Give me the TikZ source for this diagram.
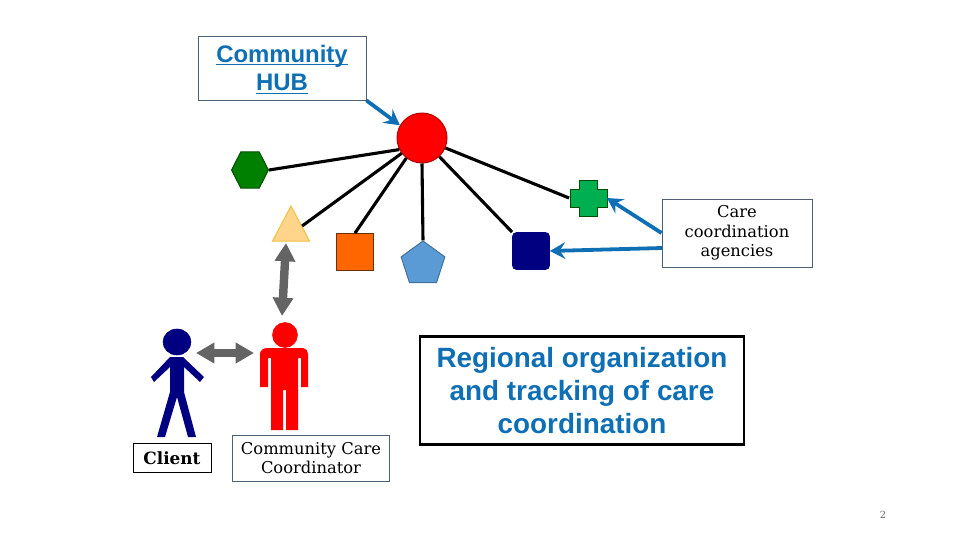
\documentclass[tikz,border=0pt]{standalone}
\usepackage{fontspec}
\setmainfont{DejaVu Serif}
\newfontfamily\arialfont{Liberation Sans}
\usetikzlibrary{arrows.meta,shapes.geometric}
\definecolor{linkblue}{HTML}{0F6FB5}
\definecolor{boxgray}{HTML}{4F6070}
\definecolor{arrowgray}{HTML}{646464}
\definecolor{clientblue}{HTML}{000080}
\definecolor{triline}{HTML}{F0C040}
\definecolor{trifill}{HTML}{FFD58C}
\definecolor{pentaline}{HTML}{41719C}
\definecolor{pentafill}{HTML}{5B9BD5}
\definecolor{plusfill}{HTML}{00B050}
\tikzset{
  labelbox/.style={draw=boxgray,line width=0.6pt,fill=white,align=center,inner sep=0pt,font=\fontsize{11.6}{13.8}\selectfont},
  spoke/.style={line width=2.2pt,black},
  pointer/.style={line width=2.7pt,linkblue,-{Stealth[length=11pt,width=12pt,inset=4pt]}},
  twoway/.style={line width=6pt,arrowgray,{Triangle[length=13pt,width=14pt]}-{Triangle[length=13pt,width=14pt]}},
  member/.style={inner sep=0pt,line width=0.7pt}
}
\begin{document}
\begin{tikzpicture}[x=0.025cm,y=-0.025cm]
  \useasboundingbox (0,0) rectangle (960,540);
  %nodi
  \node[member,circle,draw=red!70!black,fill=red,minimum size=1.25cm] (hub) at (422,138) {};
  \node[member,regular polygon,regular polygon sides=6,draw=black!70!green,fill=green!50!black,minimum size=0.92cm,yscale=1.14,transform shape] (hexa) at (250,170) {};
  \node[member,isosceles triangle,isosceles triangle stretches,shape border rotate=90,draw=triline,fill=trifill,minimum width=0.93cm,minimum height=0.88cm] (tri) at (291,230) {};
  \node[member,rectangle,draw=black!60!orange,fill=orange!80!red,minimum size=0.92cm] (square) at (355,252) {};
  \node[member,regular polygon,regular polygon sides=5,draw=pentaline,fill=pentafill,minimum size=1.15cm] (penta) at (423,264) {};
  \node[member,rectangle,rounded corners=0.1cm,draw=clientblue,fill=clientblue,minimum size=0.92cm] (navy) at (531,251) {};
  \node[member,minimum size=0.92cm] (plus) at (588,198) {};
  \filldraw[draw=black!70!green,fill=plusfill,line width=0.7pt] (579,180) -- (597,180) -- (597,189) -- (607,189) -- (607,207) -- (597,207) -- (597,216) -- (579,216) -- (579,207) -- (570,207) -- (570,189) -- (579,189) -- cycle;
  %caselle
  \node[labelbox,minimum width=4.2cm,minimum height=1.6cm,text=linkblue,font=\arialfont\bfseries\fontsize{17}{20.5}\selectfont] (hubbox) at (282,68) {\rule{0pt}{14pt}\underline{\smash{Community}}\\\underline{\smash{HUB}}};
  \node[labelbox,minimum width=3.75cm,minimum height=1.7cm] (carebox) at (737,233) {Care\\coordination\\agencies};
  \node[labelbox,draw=black,minimum width=1.95cm,minimum height=0.72cm,font=\bfseries\fontsize{12}{14}\selectfont] (clientbox) at (172,458) {Client};
  \node[labelbox,minimum width=3.92cm,minimum height=1.15cm] (ccbox) at (311,458) {Community Care\\Coordinator};
  \node[labelbox,draw=black,line width=2pt,text=linkblue,minimum width=8.1cm,minimum height=2.7cm,font=\arialfont\bfseries\fontsize{19.8}{23.7}\selectfont] (regionbox) at (582,390.5) {Regional organization\\and tracking of care\\coordination};
  \node[inner sep=0pt,text=black!60,font=\fontsize{7}{8}\selectfont] (pagenum) at (883,515) {2};
  %persone
  \filldraw[clientblue] (177,342) ellipse (14 and 13);
  \fill[clientblue] (170,357) -- (183,357) -- (204,377) -- (200,382) -- (184,367) -- (184,392) -- (196,437) -- (188,437) -- (177,397) -- (165,437) -- (157,437) -- (170,392) -- (170,367) -- (154,382) -- (151,377) -- cycle;
  \filldraw[red] (285,335) circle (12.5);
  \fill[red] (267,348) -- (303,348) to[out=0,in=90] (308,354) -- (308,387) -- (301,387) -- (301,358) -- (298,358) -- (298,430) -- (286,430) -- (286,390) -- (283,390) -- (283,430) -- (271,430) -- (271,358) -- (268,358) -- (268,387) -- (260,387) -- (260,354) to[out=90,in=180] cycle;
  %collegamenti
  \draw[spoke] (hexa.east) -- (hub.207);
  \draw[spoke] (tri.20) -- (hub.217);
  \draw[spoke] (square.north) -- (hub.232);
  \draw[spoke] (penta.north) -- (hub.270);
  \draw[spoke] (navy.north west) -- (hub.313);
  \draw[spoke] (plus.west) -- (hub.337);
  \draw[pointer] (hubbox.south east) -- (hub.150);
  \draw[pointer] (carebox.west) -- (plus.east);
  \draw[pointer] (662,248) -- (navy.east);
  \draw[twoway] (286,243) -- (282,316);
  \draw[twoway] (196,353) -- (254,353);
\end{tikzpicture}
\end{document}
